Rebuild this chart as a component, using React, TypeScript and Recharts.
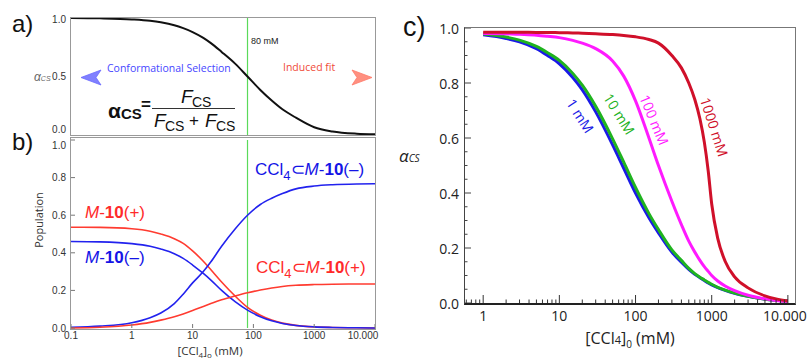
import React from 'react';
import { LineChart, Line, XAxis, YAxis, ReferenceLine } from 'recharts';

// [CCl4]0 in mM, shared by panels a) and b)
const concAB = [0.1, 0.3, 1, 2, 3, 5, 7, 10, 15, 20, 30, 50, 80, 130, 200, 300, 500, 1000, 2000, 5000, 10000];
// a) alpha_CS
const alphaCS = [1.0, 0.997, 0.988, 0.976, 0.963, 0.938, 0.913, 0.88, 0.83, 0.785, 0.71, 0.61, 0.5, 0.385, 0.295, 0.22, 0.148, 0.066, 0.03, 0.011, 0.006];
// b) populations
const m10Plus = [0.536, 0.535, 0.528, 0.515, 0.5, 0.475, 0.45, 0.41, 0.355, 0.31, 0.245, 0.17, 0.11, 0.068, 0.042, 0.026, 0.014, 0.006, 0.003, 0.001, 0];
const m10Minus = [0.46, 0.458, 0.449, 0.435, 0.42, 0.395, 0.37, 0.335, 0.29, 0.255, 0.2, 0.14, 0.095, 0.06, 0.038, 0.024, 0.013, 0.006, 0.003, 0.001, 0];
const cclMinus = [0.004, 0.01, 0.028, 0.055, 0.08, 0.13, 0.18, 0.24, 0.3, 0.352, 0.435, 0.527, 0.6, 0.657, 0.69, 0.715, 0.74, 0.755, 0.762, 0.766, 0.767];
const cclPlus = [0, 0.004, 0.016, 0.03, 0.042, 0.06, 0.075, 0.093, 0.115, 0.13, 0.15, 0.17, 0.187, 0.202, 0.213, 0.221, 0.227, 0.231, 0.233, 0.234, 0.234];

// c) alpha_CS for different host concentrations
const concC = [1, 2, 3, 5, 7, 10, 15, 20, 30, 50, 70, 100, 150, 200, 300, 400, 500, 600, 700, 800, 900, 1000, 1200, 1500, 2000, 3000, 5000, 7000, 10000];
const c1mM = [0.975, 0.962, 0.95, 0.925, 0.9, 0.87, 0.82, 0.775, 0.695, 0.575, 0.49, 0.4, 0.31, 0.255, 0.185, 0.148, 0.122, 0.104, 0.092, 0.082, 0.073, 0.066, 0.056, 0.046, 0.035, 0.024, 0.014, 0.01, 0.007];
const c10mM = [0.978, 0.967, 0.956, 0.933, 0.91, 0.882, 0.835, 0.792, 0.715, 0.597, 0.512, 0.42, 0.325, 0.267, 0.193, 0.155, 0.126, 0.107, 0.094, 0.084, 0.075, 0.068, 0.057, 0.047, 0.036, 0.024, 0.014, 0.01, 0.007];
const c100mM = [0.98, 0.979, 0.977, 0.974, 0.97, 0.965, 0.955, 0.945, 0.925, 0.88, 0.825, 0.735, 0.6, 0.5, 0.37, 0.285, 0.225, 0.185, 0.155, 0.132, 0.115, 0.1, 0.08, 0.062, 0.045, 0.028, 0.015, 0.009, 0.006];
const c1000mM = [0.985, 0.985, 0.985, 0.984, 0.984, 0.983, 0.982, 0.981, 0.979, 0.976, 0.973, 0.968, 0.958, 0.945, 0.9, 0.855, 0.8, 0.74, 0.67, 0.585, 0.48, 0.36, 0.235, 0.152, 0.095, 0.055, 0.026, 0.015, 0.007];

const abXTicks = [0.1, 1, 10, 100, 1000, 10000];
const abXLabels = ['0.1', '1', '10', '100', '1000', '10.000'];
const aYTicks = [0, 0.5, 1];
const aYLabels = ['0.0', '0.5', '1.0'];
const bYTicks = [0, 0.2, 0.4, 0.6, 0.8, 1];
const bYLabels = ['0.0', '0.2', '0.4', '0.6', '0.8', '1.0'];
const cXMajor = [1, 10, 100, 1000, 10000];
const cXLabels = ['1', '10', '100', '1000', '10.000'];
const cYMajor = [0, 0.2, 0.4, 0.6, 0.8, 1];
const cYLabels = ['0.0', '0.2', '0.4', '0.6', '0.8', '1.0'];
const markConc = 80;

const cXMinor: number[] = [0.6, 0.7, 0.8, 0.9];
[1, 10, 100, 1000].forEach((d) => [2, 3, 4, 5, 6, 7, 8, 9].forEach((m) => cXMinor.push(d * m)));
const cYMinor = Array.from({ length: 21 }, (_, i) => +(i * 0.05).toFixed(2));

const dataAB = concAB.map((c, i) => ({
  c,
  alpha: alphaCS[i],
  m10Plus: m10Plus[i],
  m10Minus: m10Minus[i],
  cclMinus: cclMinus[i],
  cclPlus: cclPlus[i],
}));
const dataC = concC.map((c, i) => ({ c, a1: c1mM[i], a10: c10mM[i], a100: c100mM[i], a1000: c1000mM[i] }));

const ARIAL = '"Liberation Sans", Arial, sans-serif';
const OPEN = '"Open Sans", "DejaVu Sans", sans-serif';
const GREEN = '#5ada5a';

function labelMap(ticks: number[], labels: string[]) {
  const m: Record<string, string> = {};
  ticks.forEach((t, i) => (m[String(t)] = labels[i]));
  return m;
}

function xTick(labels: Record<string, string>, o: any) {
  return (props: any) => {
    const { x, y, payload } = props;
    const label = labels[String(payload.value)];
    const major = label !== undefined;
    const last = payload.value === 10000;
    return (
      <g>
        <line x1={x} x2={x} y1={y} y2={y - (major ? o.major : o.minor)} stroke={o.line} strokeWidth={1} />
        {major && (
          <text x={x + (last ? o.lastDx : 0)} y={y + o.gap} textAnchor="middle" dominantBaseline="hanging"
            fontSize={o.size} fontFamily={o.font} fill={o.color}>{label}</text>
        )}
      </g>
    );
  };
}

function yTick(labels: Record<string, string>, o: any) {
  return (props: any) => {
    const { x, y, payload } = props;
    const label = labels[String(payload.value)];
    const major = label !== undefined;
    const dy = (o.dy && o.dy[String(payload.value)]) || 0;
    return (
      <g>
        <line x1={x} x2={x + (major ? o.major : o.minor)} y1={y} y2={y} stroke={o.line} strokeWidth={1} />
        {major && (
          <text x={x - o.gap} y={y + dy} textAnchor="end" dominantBaseline="central"
            fontSize={o.size} fontFamily={o.font} fill={o.color}>{label}</text>
        )}
      </g>
    );
  };
}

// vertical marker drawn in green
const greenLine = (p: any) => (
  <line x1={p.x1} x2={p.x2} y1={p.y1} y2={p.y2} stroke={GREEN} strokeWidth={1.2} />
);

const abs = (left: number, top: number, extra: React.CSSProperties = {}): React.CSSProperties => ({
  position: 'absolute', left, top, lineHeight: 1, whiteSpace: 'nowrap', ...extra,
});

function Sub({ children, size }: { children: React.ReactNode; size: number }) {
  return <span style={{ fontSize: size, position: 'relative', top: '0.35em' }}>{children}</span>;
}

function CclLabel({ sign, color, left, top }: { sign: string; color: string; left: number; top: number }) {
  return (
    <div style={abs(left, top, { color, fontFamily: ARIAL, fontSize: 17 })}>
      CCl<Sub size={13}>4</Sub>⊂<i>M</i>-<b>10</b>({sign})
    </div>
  );
}

export default function App() {
  return (
    <div style={{ position: 'absolute', left: 0, top: 0, width: 807, height: 360, background: '#fff', overflow: 'hidden' }}>
      {/* panel a */}
      <div style={{ position: 'absolute', left: 0, top: 0 }}>
        <LineChart width={390} height={140} data={dataAB} margin={{ top: 18, right: 15, bottom: 5, left: 0 }}>
          <XAxis dataKey="c" type="number" scale="log" domain={[0.1, 10000]} hide />
          <YAxis type="number" domain={[0, 1]} ticks={aYTicks} width={71} axisLine={false} tickSize={0} tickMargin={0} interval={0}
            tickLine={false}
            tick={yTick(labelMap(aYTicks, aYLabels), { major: 0, minor: 0, gap: 5, size: 10, font: ARIAL, color: '#333', line: '#888', dy: { '0': -6, '1': 1 } })} />
          <ReferenceLine x={markConc} shape={greenLine} />
          <Line type="monotone" dataKey="alpha" stroke="#111" strokeWidth={2} dot={false} isAnimationActive={false} />
        </LineChart>
      </div>

      {/* panel b */}
      <div style={{ position: 'absolute', left: 0, top: 0 }}>
        <LineChart width={390} height={360} data={dataAB} margin={{ top: 140, right: 15, bottom: 0, left: 0 }}>
          <XAxis dataKey="c" type="number" scale="log" domain={[0.1, 10000]} ticks={abXTicks} height={32} axisLine={false}
            tickSize={0} tickMargin={0} interval={0} tickLine={false}
            tick={xTick(labelMap(abXTicks, abXLabels), { major: 4, minor: 2, gap: 4, size: 10, font: ARIAL, color: '#333', line: '#777', lastDx: -12 })} />
          <YAxis type="number" domain={[0, 1]} ticks={bYTicks} width={71} axisLine={false} tickSize={0} tickMargin={0} interval={0}
            tickLine={false}
            tick={yTick(labelMap(bYTicks, bYLabels), { major: 4, minor: 2, gap: 5, size: 10, font: ARIAL, color: '#333', line: '#777', dy: { '1': 5 } })} />
          <ReferenceLine x={markConc} shape={greenLine} />
          <Line type="monotone" dataKey="m10Plus" stroke="#ff3b30" strokeWidth={1.6} dot={false} isAnimationActive={false} />
          <Line type="monotone" dataKey="m10Minus" stroke="#2222ee" strokeWidth={1.6} dot={false} isAnimationActive={false} />
          <Line type="monotone" dataKey="cclMinus" stroke="#2222ee" strokeWidth={1.6} dot={false} isAnimationActive={false} />
          <Line type="monotone" dataKey="cclPlus" stroke="#ff3b30" strokeWidth={1.6} dot={false} isAnimationActive={false} />
        </LineChart>
      </div>

      {/* frames a, b */}
      <div style={{ position: 'absolute', left: 70, top: 17, width: 306, height: 119, border: '1.5px solid #999', boxSizing: 'border-box' }} />
      <div style={{ position: 'absolute', left: 70, top: 137, width: 306, height: 193, border: '1.5px solid #999', boxSizing: 'border-box' }} />

      {/* arrows in a */}
      <svg style={{ position: 'absolute', left: 0, top: 0 }} width={390} height={140}>
        <defs>
          <linearGradient id="gb" x1="0" x2="1" y1="0" y2="0">
            <stop offset="0" stopColor="#7d7dff" />
            <stop offset="1" stopColor="#2b2bee" />
          </linearGradient>
          <linearGradient id="gr" x1="0" x2="1" y1="0" y2="0">
            <stop offset="0" stopColor="#ff4433" />
            <stop offset="1" stopColor="#ff8c7c" />
          </linearGradient>
        </defs>
        <line x1={96} x2={237} y1={77.5} y2={77.5} stroke="url(#gb)" strokeWidth={2.2} />
        <polygon points="81,77.5 101,70 96,77.5 101,85" fill="#8080ff" stroke="#6a6aff" strokeWidth={0.8} />
        <line x1={254} x2={357} y1={77.5} y2={77.5} stroke="url(#gr)" strokeWidth={2.2} />
        <polygon points="372,77.5 352,70 357,77.5 352,85" fill="#ff9080" stroke="#ff7a6a" strokeWidth={0.8} />
      </svg>

      {/* texts in a */}
      <div style={abs(12, 12, { fontFamily: ARIAL, fontSize: 24, color: '#111' })}>a)</div>
      <div style={abs(34, 71, { fontFamily: ARIAL, fontSize: 12, color: '#666', fontStyle: 'italic' })}>
        α<span style={{ fontSize: 7 }}>CS</span>
      </div>
      <div style={abs(251, 37, { fontFamily: ARIAL, fontSize: 9, color: '#222' })}>80 mM</div>
      <div style={abs(107, 63, { fontFamily: OPEN, fontSize: 10.5, color: '#4646ff' })}>Conformational Selection</div>
      <div style={abs(283, 62, { fontFamily: OPEN, fontSize: 10.5, color: '#f04a36' })}>Induced fit</div>

      {/* formula */}
      <div style={abs(108, 100, { fontFamily: ARIAL, fontSize: 21, fontWeight: 700, color: '#111' })}>α</div>
      <div style={abs(121, 106, { fontFamily: ARIAL, fontSize: 15, fontWeight: 700, color: '#111' })}>CS</div>
      <div style={abs(141, 96, { fontFamily: ARIAL, fontSize: 17, fontWeight: 700, color: '#111' })}>=</div>
      <div style={{ position: 'absolute', left: 152, top: 107.5, width: 83, height: 0, borderTop: '1.5px solid #333' }} />
      <div style={abs(181, 87, { fontFamily: ARIAL, fontSize: 19, fontStyle: 'italic', color: '#111' })}>F</div>
      <div style={abs(192, 95, { fontFamily: ARIAL, fontSize: 14, color: '#111' })}>CS</div>
      <div style={abs(154, 111, { fontFamily: ARIAL, fontSize: 19, fontStyle: 'italic', color: '#111' })}>F</div>
      <div style={abs(165, 119, { fontFamily: ARIAL, fontSize: 14, color: '#111' })}>CS</div>
      <div style={abs(189, 112, { fontFamily: ARIAL, fontSize: 17, color: '#111' })}>+</div>
      <div style={abs(205, 111, { fontFamily: ARIAL, fontSize: 19, fontStyle: 'italic', color: '#111' })}>F</div>
      <div style={abs(216, 119, { fontFamily: ARIAL, fontSize: 14, color: '#111' })}>CS</div>

      {/* texts in b */}
      <div style={abs(12, 130, { fontFamily: ARIAL, fontSize: 24, color: '#111' })}>b)</div>
      <div style={abs(38, 220, { fontFamily: OPEN, fontSize: 11, color: '#333', transform: 'translate(-50%,-50%) rotate(-90deg)' })}>Population</div>
      <div style={abs(210, 351, { fontFamily: OPEN, fontSize: 11.5, color: '#333', transform: 'translate(-50%,-50%)' })}>
        [CCl<Sub size={8}>4</Sub>]<Sub size={8}>o</Sub> (mM)
      </div>
      <CclLabel sign="–" color="#1414e6" left={255} top={161} />
      <CclLabel sign="+" color="#ff2a2a" left={256} top={259} />
      <div style={abs(85, 204, { fontFamily: ARIAL, fontSize: 17, color: '#ff2a2a' })}>
        <i>M</i>-<b>10</b>(+)
      </div>
      <div style={abs(85, 249, { fontFamily: ARIAL, fontSize: 17, color: '#1414e6' })}>
        <i>M</i>-<b>10</b>(–)
      </div>

      {/* panel c */}
      <div style={{ position: 'absolute', left: 400, top: 0 }}>
        <LineChart width={407} height={360} data={dataC} margin={{ top: 28, right: 12, bottom: 0, left: 0 }}>
          <XAxis dataKey="c" type="number" scale="log" domain={[0.56, 12400]} allowDataOverflow ticks={[...cXMajor, ...cXMinor]} height={57}
            axisLine={false} tickSize={0} tickMargin={0} interval={0} tickLine={false}
            tick={xTick(labelMap(cXMajor, cXLabels), { major: 8, minor: 3.5, gap: 6, size: 14, font: OPEN, color: '#222', line: '#333', lastDx: -3 })} />
          <YAxis type="number" domain={[0, 1]} ticks={cYMinor} width={64} axisLine={false} tickSize={0} tickMargin={0} interval={0}
            tickLine={false}
            tick={yTick(labelMap(cYMajor, cYLabels), { major: 7, minor: 3.5, gap: 5, size: 14, font: OPEN, color: '#222', line: '#444' })} />
          <Line type="monotone" dataKey="a1" stroke="#1a1ae6" strokeWidth={3} dot={false} isAnimationActive={false} />
          <Line type="monotone" dataKey="a10" stroke="#1fb31f" strokeWidth={3} dot={false} isAnimationActive={false} />
          <Line type="monotone" dataKey="a100" stroke="#ff1aff" strokeWidth={3} dot={false} isAnimationActive={false} />
          <Line type="monotone" dataKey="a1000" stroke="#d0102a" strokeWidth={3} dot={false} isAnimationActive={false} />
        </LineChart>
      </div>
      <div style={{ position: 'absolute', left: 464, top: 27, width: 332, height: 278, border: '1.5px solid #777', borderBottom: '2px solid #222', borderLeft: '1.5px solid #444', boxSizing: 'border-box' }} />

      {/* texts in c */}
      <div style={abs(403, 14, { fontFamily: ARIAL, fontSize: 27, color: '#111' })}>c)</div>
      <div style={abs(399, 147, { fontFamily: OPEN, fontSize: 17, color: '#222', fontStyle: 'italic' })}>
        α<span style={{ fontSize: 10 }}>CS</span>
      </div>
      <div style={abs(630, 338, { fontFamily: OPEN, fontSize: 16, color: '#222', transform: 'translate(-50%,-50%)' })}>
        [CCl<span style={{ fontSize: 11 }}>4</span>]<Sub size={10}>0</Sub> (mM)
      </div>
      <div style={abs(580, 116, { fontFamily: OPEN, fontSize: 14, color: '#1a1ae6', transform: 'translate(-50%,-50%) rotate(57deg)' })}>1 mM</div>
      <div style={abs(619, 114, { fontFamily: OPEN, fontSize: 14, color: '#1fb31f', transform: 'translate(-50%,-50%) rotate(58deg)' })}>10 mM</div>
      <div style={abs(654, 120, { fontFamily: OPEN, fontSize: 14, color: '#ff1aff', transform: 'translate(-50%,-50%) rotate(67deg)' })}>100 mM</div>
      <div style={abs(714, 127, { fontFamily: OPEN, fontSize: 14, color: '#d0102a', transform: 'translate(-50%,-50%) rotate(72deg)' })}>1000 mM</div>
    </div>
  );
}
